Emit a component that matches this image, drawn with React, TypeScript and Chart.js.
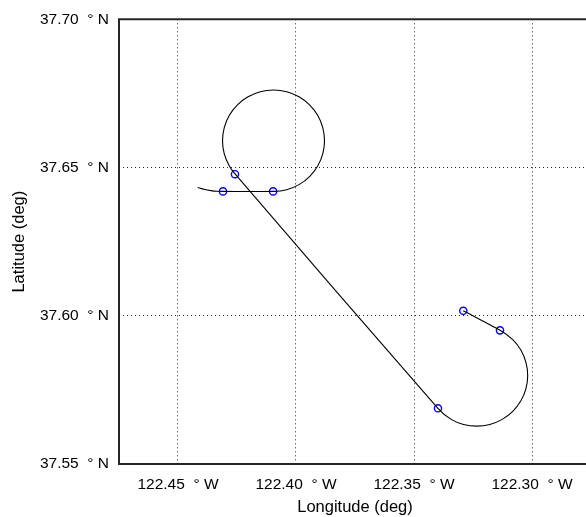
import { useEffect, useRef } from "react";
import { Chart, registerables } from "chart.js";

Chart.register(...registerables);

// Flight track (longitude in degrees, negative = West; latitude in degrees North)
const trackLon = [
  -122.44165, -122.43898, -122.43602, -122.43347, -122.43093,
  -122.40953, -122.40394, -122.39873, -122.39425, -122.39082, -122.38866,
  -122.38792, -122.38866, -122.39082, -122.39425, -122.39873, -122.40394,
  -122.40953, -122.41512, -122.42034, -122.42481, -122.42824, -122.4304,
  -122.43114, -122.4304, -122.42824, -122.42584,
  -122.33986, -122.33424, -122.32902, -122.32343, -122.31784, -122.31263,
  -122.30815, -122.30472, -122.30256, -122.30182, -122.30256, -122.30472,
  -122.30815, -122.31355, -122.32911,
];
const trackLat = [
  37.64329, 37.64265, 37.6422, 37.64198, 37.64195,
  37.64195, 37.64253, 37.64424, 37.64696, 37.65051, 37.65463,
  37.65906, 37.66349, 37.66762, 37.67116, 37.67388, 37.67559,
  37.67617, 37.67559, 37.67388, 37.67116, 37.66762, 37.66349,
  37.65906, 37.65463, 37.65051, 37.64783,
  37.56876, 37.56505, 37.56334, 37.56276, 37.56334, 37.56505,
  37.56777, 37.57132, 37.57544, 37.57987, 37.5843, 37.58843,
  37.59197, 37.59509, 37.60168,
];

// Waypoint markers
const markerLon = [-122.43093, -122.4097, -122.42585, -122.33985, -122.31356, -122.32911];
const markerLat = [37.64195, 37.64195, 37.64775, 37.56878, 37.59508, 37.60168];

// Axes
const lonTicks = [-122.45, -122.4, -122.35, -122.3];
const latTicks = [37.55, 37.6, 37.65, 37.7];
const lonMin = -122.475;
const lonMax = -122.275;
const latMin = 37.55;
const latMax = 37.7;

const FONT = "'Liberation Sans', Arial, Helvetica, sans-serif";

const frame = {
  id: "frame",
  afterDraw(chart: any) {
    const { ctx, chartArea: a } = chart;
    ctx.save();
    ctx.strokeStyle = "#262626";
    ctx.lineWidth = 2;
    ctx.setLineDash([]);
    ctx.beginPath();
    ctx.moveTo(a.left, a.top);
    ctx.lineTo(a.right, a.top);
    ctx.lineTo(a.right, a.bottom);
    ctx.lineTo(a.left, a.bottom);
    ctx.closePath();
    ctx.stroke();
    ctx.restore();
  },
};

export default function App() {
  const ref = useRef<HTMLCanvasElement>(null);

  useEffect(() => {
    if (!ref.current) return;
    const track = trackLon.map((x, i) => ({ x, y: trackLat[i] }));
    const markers = markerLon.map((x, i) => ({ x, y: markerLat[i] }));
    const chart = new Chart(ref.current, {
      type: "scatter",
      data: {
        datasets: [
          {
            data: track,
            showLine: true,
            tension: 0.25,
            borderColor: "#000000",
            borderWidth: 1.1,
            pointRadius: 0,
            pointHoverRadius: 0,
            fill: false,
          },
          {
            data: markers,
            showLine: false,
            pointStyle: "circle",
            pointRadius: 3.6,
            pointBorderWidth: 1.4,
            pointBorderColor: "#0000ff",
            pointBackgroundColor: "rgba(0,0,0,0)",
            borderColor: "#0000ff",
            backgroundColor: "rgba(0,0,0,0)",
          },
        ],
      },
      options: {
        animation: false,
        responsive: false,
        devicePixelRatio: 1,
        layout: { padding: { left: 0, top: 17, right: 9, bottom: 0 } },
        plugins: {
          legend: { display: false },
          tooltip: { enabled: false },
        },
        scales: {
          x: {
            type: "linear",
            position: "bottom",
            min: lonMin,
            max: lonMax,
            afterBuildTicks: (s: any) => {
              s.ticks = lonTicks.map((v) => ({ value: v }));
            },
            afterFit: (s: any) => {
              s.height = 53;
            },
            ticks: {
              autoSkip: false,
              maxRotation: 0,
              minRotation: 0,
              padding: 11,
              color: "#000000",
              font: { family: FONT, size: 15.5 },
              callback: (v: any) => `${Math.abs(Number(v)).toFixed(2)}  \u00B0 W`,
            },
            grid: {
              drawTicks: false,
              color: "rgba(0,0,0,0.85)",
              lineWidth: 1,
            },
            border: { display: false, dash: [1, 3] },
            title: {
              display: true,
              text: "Longitude (deg)",
              color: "#000000",
              font: { family: FONT, size: 16.5 },
              padding: { top: 0, bottom: 0 },
            },
          },
          y: {
            type: "linear",
            position: "left",
            min: latMin,
            max: latMax,
            afterBuildTicks: (s: any) => {
              s.ticks = latTicks.map((v) => ({ value: v }));
            },
            afterFit: (s: any) => {
              s.width = 119;
            },
            ticks: {
              autoSkip: false,
              padding: 10,
              color: "#000000",
              font: { family: FONT, size: 15.5 },
              callback: (v: any) => `${Number(v).toFixed(2)}  \u00B0 N`,
            },
            grid: {
              drawTicks: false,
              color: "rgba(0,0,0,0.85)",
              lineWidth: 1,
            },
            border: { display: false, dash: [1, 3] },
            title: {
              display: true,
              text: "Latitude (deg)",
              color: "#000000",
              font: { family: FONT, size: 16.5 },
              padding: { top: 10, bottom: 0 },
            },
          },
        },
      },
      plugins: [frame],
    });
    return () => chart.destroy();
  }, []);

  return (
    <div
      style={{
        position: "fixed",
        left: 0,
        top: 0,
        width: 586,
        height: 517,
        overflow: "hidden",
        background: "#ffffff",
      }}
    >
      <canvas ref={ref} width={600} height={517} style={{ width: 600, height: 517, display: "block" }} />
    </div>
  );
}
